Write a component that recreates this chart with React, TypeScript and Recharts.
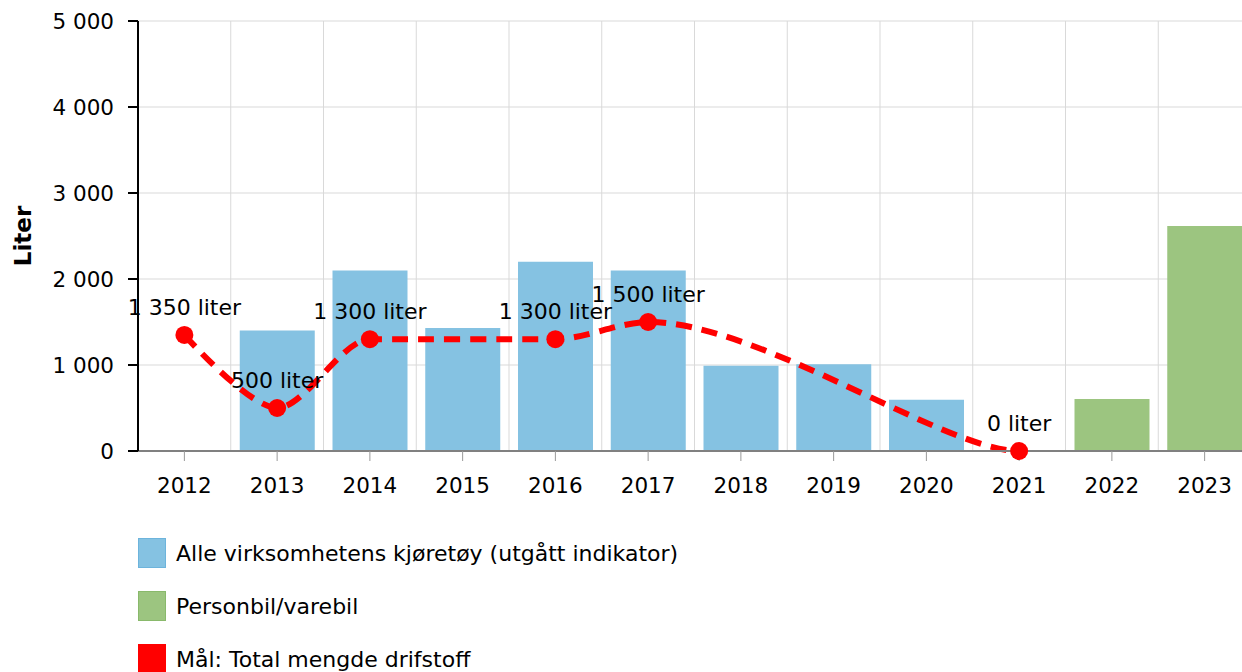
import React from "react";
import {
  ComposedChart,
  Bar,
  Line,
  XAxis,
  YAxis,
  CartesianGrid,
  LabelList,
} from "recharts";

const years = ["2012", "2013", "2014", "2015", "2016", "2017", "2018", "2019", "2020", "2021", "2022", "2023"];
const alleValues: (number | null)[] = [null, 1400, 2100, 1430, 2200, 2100, 990, 1010, 595, null, null, null];
const personbilValues: (number | null)[] = [null, null, null, null, null, null, null, null, null, null, 605, 2615];
const malValues: (number | null)[] = [1350, 500, 1300, null, 1300, 1500, null, null, null, 0, null, null];
const yTicks = [0, 1000, 2000, 3000, 4000, 5000];

const seriesNames = {
  alle: "Alle virksomhetens kjøretøy (utgått indikator)",
  personbil: "Personbil/varebil",
  mal: "Mål: Total mengde drifstoff",
};

const data = years.map((y, i) => ({
  year: y,
  alle: alleValues[i],
  personbil: personbilValues[i],
  mal: malValues[i],
}));

const FONT = "'DejaVu Sans', Verdana, sans-serif";
const fmt = (v: number) => String(v).replace(/\B(?=(\d{3})+(?!\d))/g, " ");

const BLUE = "#85c2e2";
const GREEN = "#9cc580";
const RED = "#ff0000";

const legendItems = [
  { name: seriesNames.alle, fill: BLUE, border: "#6db4dc" },
  { name: seriesNames.personbil, fill: GREEN, border: "#89b96b" },
  { name: seriesNames.mal, fill: RED, border: RED },
];

// Spline curve (control points kept between neighbours, eased end)
function splineCurve(context: any) {
  let pts: [number, number][] = [];
  return {
    areaStart() {},
    areaEnd() {},
    lineStart() {
      pts = [];
    },
    point(x: number, y: number) {
      pts.push([+x, +y]);
    },
    lineEnd() {
      const n = pts.length;
      if (!n) return;
      const s = 2.33;
      const d = s + 1;
      const rc: ([number, number] | null)[] = new Array(n).fill(null);
      const lc: ([number, number] | null)[] = new Array(n).fill(null);
      for (let i = 1; i < n - 1; i++) {
        const [px, py] = pts[i];
        const [lx, ly] = pts[i - 1];
        const [nx, ny] = pts[i + 1];
        const lcx = (s * px + lx) / d;
        let lcy = (s * py + ly) / d;
        const rcx = (s * px + nx) / d;
        let rcy = (s * py + ny) / d;
        let corr = 0;
        if (rcx !== lcx) corr = ((rcy - lcy) * (rcx - px)) / (rcx - lcx) + py - rcy;
        lcy += corr;
        rcy += corr;
        if (lcy > ly && lcy > py) {
          lcy = Math.max(ly, py);
          rcy = 2 * py - lcy;
        } else if (lcy < ly && lcy < py) {
          lcy = Math.min(ly, py);
          rcy = 2 * py - lcy;
        }
        if (rcy > ny && rcy > py) {
          rcy = Math.max(ny, py);
          lcy = 2 * py - rcy;
        } else if (rcy < ny && rcy < py) {
          rcy = Math.min(ny, py);
          lcy = 2 * py - rcy;
        }
        lc[i] = [lcx, lcy];
        rc[i] = [rcx, rcy];
      }
      if (n > 1) {
        const [px, py] = pts[n - 1];
        const [lx] = pts[n - 2];
        lc[n - 1] = [px - 0.2 * (px - lx), py];
      }
      context.moveTo(pts[0][0], pts[0][1]);
      for (let i = 1; i < n; i++) {
        const a = rc[i - 1] ?? pts[i - 1];
        const b = lc[i] ?? pts[i];
        context.bezierCurveTo(a[0], a[1], b[0], b[1], pts[i][0], pts[i][1]);
      }
    },
  };
}

const PointLabel = (props: any) => {
  const { x, y, value } = props;
  if (value === null || value === undefined) return null;
  return (
    <text x={x} y={y - 20} textAnchor="middle" fontSize={22} fontFamily={FONT} fill="#000">
      {fmt(value)} liter
    </text>
  );
};

export default function App() {
  return (
    <div
      style={{
        position: "absolute",
        left: 0,
        top: 0,
        width: 1242,
        height: 672,
        overflow: "hidden",
        background: "#fff",
        fontFamily: FONT,
      }}
    >
      <ComposedChart
        width={1260}
        height={520}
        data={data}
        margin={{ top: 21, right: 9, left: 0, bottom: 0 }}
        barCategoryGap={9}
      >
        <CartesianGrid
          stroke="#d9d9d9"
          strokeWidth={1}
          verticalCoordinatesGenerator={({ offset }: any) =>
            years.slice(1).map((_, i) => offset.left + ((i + 1) * offset.width) / years.length)
          }
        />
        <XAxis
          dataKey="year"
          axisLine={{ stroke: "#808080", strokeWidth: 2 }}
          tickLine={{ stroke: "#999", strokeWidth: 1 }}
          tickSize={10}
          tickMargin={17}
          tick={{ fontSize: 21.5, fontFamily: FONT, fill: "#000" }}
          height={69}
          interval={0}
        />
        <YAxis
          domain={[0, 5000]}
          ticks={yTicks}
          tickFormatter={fmt}
          axisLine={{ stroke: "#000", strokeWidth: 2 }}
          tickLine={{ stroke: "#000", strokeWidth: 2 }}
          tickSize={10}
          tickMargin={14}
          width={138}
          tick={{ fontSize: 21.5, fontFamily: FONT, fill: "#000" }}
          label={{
            value: "Liter",
            angle: -90,
            position: "insideLeft",
            offset: 23,
            style: { fontSize: 23, fontWeight: "bold", fontFamily: FONT, fill: "#000", textAnchor: "middle" },
          }}
        />
        <Bar dataKey="alle" stackId="a" fill={BLUE} isAnimationActive={false} name={seriesNames.alle} />
        <Bar dataKey="personbil" stackId="a" fill={GREEN} isAnimationActive={false} name={seriesNames.personbil} />
        <Line
          dataKey="mal"
          type={splineCurve as any}
          connectNulls
          stroke={RED}
          strokeWidth={6}
          strokeDasharray="16 10"
          dot={{ r: 9, fill: RED, stroke: RED, strokeWidth: 0, strokeDasharray: "" }}
          activeDot={false}
          isAnimationActive={false}
          name={seriesNames.mal}
        >
          <LabelList dataKey="mal" content={<PointLabel />} />
        </Line>
      </ComposedChart>
      <div style={{ position: "absolute", left: 138, top: 538 }}>
        {legendItems.map((it) => (
          <div key={it.name} style={{ display: "flex", alignItems: "center", height: 30, marginBottom: 23 }}>
            <div
              style={{
                width: 26,
                height: 28,
                background: it.fill,
                border: `1px solid ${it.border}`,
                marginRight: 10,
              }}
            />
            <span style={{ fontSize: 22, color: "#000", fontFamily: FONT, whiteSpace: "nowrap" }}>{it.name}</span>
          </div>
        ))}
      </div>
    </div>
  );
}
